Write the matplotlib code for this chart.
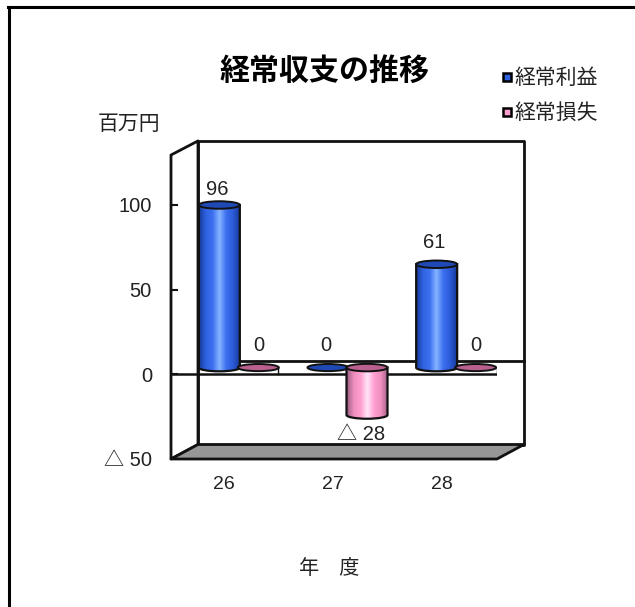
import numpy as np
import matplotlib
matplotlib.use('Agg')
import matplotlib.pyplot as plt
from matplotlib.colors import LinearSegmentedColormap
from matplotlib.patches import Ellipse, PathPatch, Polygon, Rectangle
from matplotlib.path import Path

plt.rcParams['font.family'] = ['Liberation Sans', 'Noto Sans CJK JP']

years = ['26', '27', '28']
profit = [96, 0, 61]
loss = [0, -28, 0]
profit_labels = ['96', '0', '61']
loss_labels = ['0', '△ 28', '0']
y_ticks = [100, 50, 0, -50]
y_tick_labels = ['100', '50', '0', '△ 50']

W, H = 635, 607
fig = plt.figure(figsize=(W / 100, H / 100), dpi=100)

# sheet outline, only top and left are visible
fig.add_artist(plt.Line2D([9 / W, 9 / W], [0, 1 - 7 / H], color='black', lw=2.2))
fig.add_artist(plt.Line2D([8 / W, 1], [1 - 7 / H, 1 - 7 / H], color='black', lw=2.2))

# axes box is the front face of the 3d plot area
left, right, bottom, top = 171, 497, 459, 155
ax = fig.add_axes([left / W, 1 - bottom / H, (right - left) / W, (bottom - top) / H])
ax.set_axis_off()
xlim = (-0.5, 2.5)
ylim = (-50, 129.5)
px_x = (right - left) / (xlim[1] - xlim[0])
px_y = (bottom - top) / (ylim[1] - ylim[0])

# depth of the box and where the bars sit inside it
depth_x = 27 / px_x
depth_y = 14.5 / px_y
mid_x = depth_x / 2
mid_y = depth_y / 2 - 0.3
bar_w = 41 / px_x
bar_off = 19.5 / px_x
ell_h = 7.5 / px_y

x0, x1 = xlim
y0, y1 = ylim
edge = dict(edgecolor='#111111', lw=2, joinstyle='round', clip_on=False)

# walls and floor
ax.add_patch(Polygon([(x0 + depth_x, y0 + depth_y), (x1 + depth_x, y0 + depth_y),
                      (x1 + depth_x, y1 + depth_y * 0.97), (x0 + depth_x, y1 + depth_y * 0.97)],
                     facecolor='white', zorder=1, **edge))
ax.add_patch(Polygon([(x0, y0), (x0 + depth_x, y0 + depth_y),
                      (x0 + depth_x, y1 + depth_y * 0.97), (x0, y1)],
                     facecolor='white', zorder=1, **edge))
ax.add_patch(Polygon([(x0, y0), (x1, y0), (x1 + depth_x, y0 + depth_y), (x0 + depth_x, y0 + depth_y)],
                     facecolor='#969696', zorder=2, **edge))

# zero plane
ax.plot([x0 + depth_x, x1 + depth_x], [depth_y * 0.95, depth_y * 0.95], color='#111111', lw=2,
        zorder=2, clip_on=False)
ax.plot([x0, x1], [0, 0], color='#111111', lw=1.8, zorder=3)
ax.plot([x1, x1], [0, mid_y], color='#111111', lw=1, zorder=3)
ax.plot([0.485, 0.485], [0, mid_y], color='#111111', lw=1, zorder=3)

# ticks on the left wall
for val, lab in zip(y_ticks, y_tick_labels):
    if val != -50:
        ax.plot([x0, x0 + 6 / px_x], [val, val], color='#111111', lw=1.5, zorder=3)
    ax.text(x0 - 19 / px_x, val - 2 / px_y, lab, ha='right', va='center', fontsize=14.5, color='#222222',
            clip_on=False)

blue_map = LinearSegmentedColormap.from_list(
    'blue_bar', ['#173a99', '#2f62e0', '#3d70f0', '#86b4ff', '#3d70f0', '#2c5bd8', '#173a99'])
pink_map = LinearSegmentedColormap.from_list(
    'pink_bar', ['#a05f85', '#ee8fc0', '#ff9fd0', '#ffe6fa', '#ff9fd0', '#ee8fc0', '#a05f85'])
gradient = np.linspace(0, 1, 128).reshape(1, -1)


def draw_cylinder(xc, value, cmap, cap_color):
    xl, xr = xc - bar_w / 2, xc + bar_w / 2
    y_base, y_top = mid_y, value + mid_y
    if value == 0:
        ax.add_patch(Ellipse((xc, y_base), bar_w, ell_h * 0.95, facecolor=cap_color,
                             edgecolor='#111111', lw=1.4, zorder=5))
        return
    kappa = 0.5523
    dy = ell_h / 2
    low, high = min(y_base, y_top), max(y_base, y_top)
    # body with a rounded lower end
    verts = [(xl, high), (xl, low), (xl, low - kappa * dy), (xc - kappa * bar_w / 2, low - dy), (xc, low - dy),
             (xc + kappa * bar_w / 2, low - dy), (xr, low - kappa * dy), (xr, low), (xr, high), (xl, high)]
    codes = [Path.MOVETO, Path.LINETO, Path.CURVE4, Path.CURVE4, Path.CURVE4,
             Path.CURVE4, Path.CURVE4, Path.CURVE4, Path.LINETO, Path.CLOSEPOLY]
    body = PathPatch(Path(verts, codes), facecolor='none', edgecolor='#111111', lw=1.6, zorder=5)
    ax.add_patch(body)
    im = ax.imshow(gradient, cmap=cmap, extent=(xl, xr, low - dy, high), aspect='auto', zorder=4.5)
    im.set_clip_path(PathPatch(Path(verts, codes), transform=ax.transData))
    ax.add_patch(Ellipse((xc, high), bar_w, ell_h, facecolor=cap_color, edgecolor='#111111', lw=1.4, zorder=6))


# the tall first column has its label closer to the cap
label_gaps = [15, 22, 22]

for i in range(len(years)):
    xb = i + mid_x - bar_off
    xp = i + mid_x + bar_off
    draw_cylinder(xb, profit[i], blue_map, '#1f49b4')
    draw_cylinder(xp, loss[i], pink_map, '#b9608f')
    ax.text(i - 1 / px_x, y0 - 26 / px_y, years[i], ha='center', va='center', fontsize=14, color='#222222',
            clip_on=False)

    top_b = max(profit[i], 0) + mid_y + label_gaps[i] / px_y
    ax.text(xb - 2 / px_x, top_b, profit_labels[i], ha='center', va='center', fontsize=14.5,
            color='#222222', zorder=7)
    if loss[i] < 0:
        ax.text(xp - 6 / px_x, loss[i] + mid_y - 20 / px_y, loss_labels[i], ha='center', va='center',
                fontsize=14.5, color='#222222', zorder=7)
    else:
        ax.text(xp, mid_y + 22 / px_y, loss_labels[i], ha='center', va='center', fontsize=14.5,
                color='#222222', zorder=7)

ax.set_xlim(xlim)
ax.set_ylim(ylim)

jp = ['Noto Sans CJK JP', 'DejaVu Sans']
fig.text(324 / W, 1 - 71 / H, '経常収支の推移', ha='center', va='center', fontsize=21.6, fontweight='bold', family=jp)
fig.text(129 / W, 1 - 124 / H, '百万円', ha='center', va='center', fontsize=15, family=jp, color='#222222')
fig.text(329 / W, 1 - 568 / H, '年\u3000度', ha='center', va='center', fontsize=14.5, family=jp, color='#222222')

# legend
for y, label, color in [(77, '経常利益', '#2f62e0'), (112, '経常損失', '#ff9fd0')]:
    fig.add_artist(Rectangle((503 / W, 1 - (y + 4) / H), 8 / W, 8 / H, transform=fig.transFigure,
                             facecolor=color, edgecolor='black', lw=1.8))
    fig.text(514 / W, 1 - (y + 1) / H, label, ha='left', va='center', fontsize=15, family=jp, color='#222222')

fig.savefig('out.png', dpi=100)
